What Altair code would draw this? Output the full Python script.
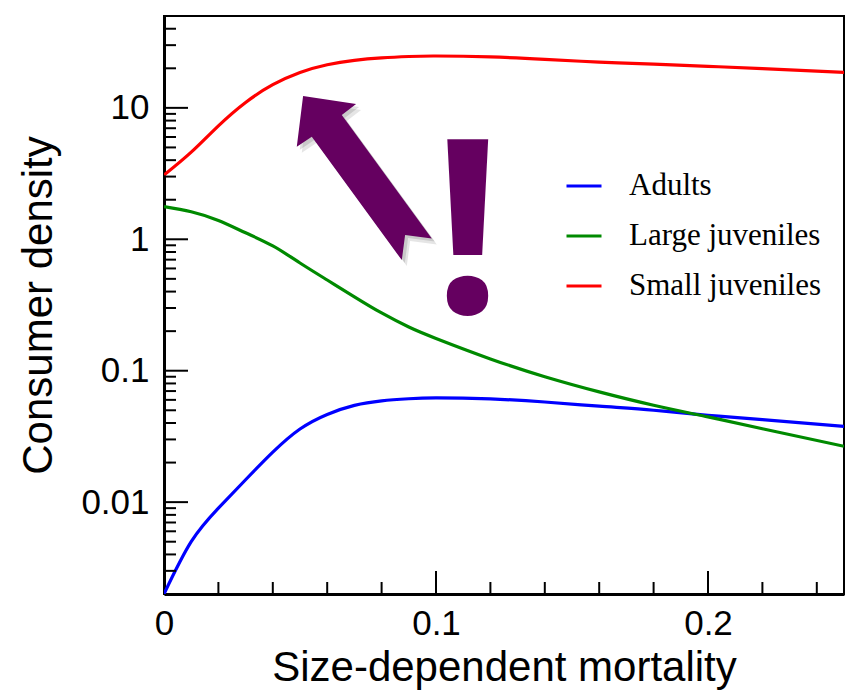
import altair as alt
import pandas as pd

# ---- data ----
mortality = [0, 0.01, 0.02, 0.03, 0.04, 0.05, 0.06, 0.07, 0.08, 0.09, 0.10,
             0.12, 0.14, 0.16, 0.18, 0.20, 0.22, 0.25]
adults = [0.002, 0.0050, 0.0090, 0.0148, 0.024, 0.036, 0.0465, 0.0545, 0.059,
          0.0612, 0.0621, 0.061, 0.0578, 0.0537, 0.050, 0.0458, 0.0425, 0.0377]
large_juveniles = [1.77, 1.62, 1.39, 1.12, 0.89, 0.66, 0.49, 0.365, 0.275,
                   0.215, 0.176, 0.123, 0.090, 0.069, 0.0546, 0.0445, 0.0362, 0.0266]
small_juveniles = [3.08, 4.6, 7.3, 11.0, 15.0, 18.6, 21.3, 23.0, 24.0, 24.6,
                   24.8, 24.4, 23.4, 22.3, 21.5, 20.7, 19.9, 18.6]

series_names = ["Adults", "Large juveniles", "Small juveniles"]
series_colors = ["#0000ff", "#008a00", "#ff0000"]

x_domain = [0, 0.25]
y_domain = [0.002, 50]
x_label_values = [0, 0.1, 0.2]
y_label_values = [0.01, 0.1, 1, 10]
x_major_ticks = [0.1, 0.2]
x_minor_ticks = [0.02, 0.04, 0.06, 0.08, 0.12, 0.14, 0.16, 0.18, 0.22, 0.24]
y_major_ticks = [0.01, 0.1, 1, 10]
y_minor_ticks = [0.003, 0.004, 0.005, 0.006, 0.007, 0.008, 0.009,
                 0.02, 0.03, 0.04, 0.05, 0.06, 0.07, 0.08, 0.09,
                 0.2, 0.3, 0.4, 0.5, 0.6, 0.7, 0.8, 0.9,
                 2, 3, 4, 5, 6, 7, 8, 9, 20, 30, 40]

# annotation anchors (data units)
arrow_anchor = {"x": 0.0743, "y": 2.92}
bang_anchor = {"x": 0.1116, "y": 0.277}
bang_text = "!"
purple = "#650060"

# ---- tables ----
rows = []
for name, vals in zip(series_names, [adults, large_juveniles, small_juveniles]):
    for xv, yv in zip(mortality, vals):
        rows.append({"mortality": xv, "density": yv, "series": name})
df = pd.DataFrame(rows)

xs = alt.Scale(domain=x_domain, nice=False, zero=False)
ys = alt.Scale(type="log", domain=y_domain, nice=False)

W, H = 680, 578
label_font = "Liberation Sans"

x_axis = alt.Axis(values=x_label_values, format="~g", ticks=False, tickSize=0,
                  grid=False, domainColor="black", domainWidth=3,
                  labelFont=label_font, labelFontSize=35, labelColor="black",
                  labelPadding=12, labelFlush=False,
                  title="Size-dependent mortality", titleFont=label_font,
                  titleFontSize=42, titleFontWeight="normal", titleColor="black",
                  titlePadding=6)
y_axis = alt.Axis(values=y_label_values, format="~g", ticks=False, tickSize=0,
                  grid=False, domainColor="black", domainWidth=3,
                  labelFont=label_font, labelFontSize=35, labelColor="black",
                  labelPadding=15, labelFlush=False,
                  title="Consumer density", titleFont=label_font,
                  titleFontSize=42, titleFontWeight="normal", titleColor="black",
                  titlePadding=20)


def X(field):
    return alt.X(field, scale=xs, axis=x_axis)


def Y(field):
    return alt.Y(field, scale=ys, axis=y_axis)


lines = alt.Chart(df).mark_line(strokeWidth=3.2, clip=True, interpolate="natural").encode(
    x=X("mortality:Q"),
    y=Y("density:Q"),
    color=alt.Color("series:N",
                    scale=alt.Scale(domain=series_names, range=series_colors),
                    legend=alt.Legend(orient="none", legendX=401, legendY=151, title=None,
                                      padding=0, symbolType="stroke", symbolSize=1225,
                                      symbolStrokeWidth=3, labelFont="Liberation Serif",
                                      labelFontSize=31, labelColor="black", labelOffset=26,
                                      rowPadding=16, labelLimit=400)),
)

ymaj = alt.Chart(pd.DataFrame({"v": y_major_ticks})).mark_rule(strokeWidth=2, color="black").encode(
    y=Y("v:Q"), x=alt.value(0), x2=alt.value(24))
ymin = alt.Chart(pd.DataFrame({"v": y_minor_ticks})).mark_rule(strokeWidth=2, color="black").encode(
    y=Y("v:Q"), x=alt.value(0), x2=alt.value(12))
xmaj = alt.Chart(pd.DataFrame({"v": x_major_ticks})).mark_rule(strokeWidth=2, color="black").encode(
    x=X("v:Q"), y=alt.value(H), y2=alt.value(H - 23))
xmin = alt.Chart(pd.DataFrame({"v": x_minor_ticks})).mark_rule(strokeWidth=2, color="black").encode(
    x=X("v:Q"), y=alt.value(H), y2=alt.value(H - 12))

arrow_path = ("M -0.63 -0.82 L -0.10 -0.74 L -0.243 -0.63 L 0.657 0.603 L 0.39 0.57 "
              "L 0.357 0.82 L -0.543 -0.413 L -0.693 -0.313 Z")
arrow_df = pd.DataFrame([arrow_anchor])
shadow1 = alt.Chart(arrow_df).mark_point(shape=arrow_path, size=40000, filled=True,
                                          color="#000000", opacity=0.10, strokeWidth=0,
                                          xOffset=5, yOffset=6).encode(
    x=X("x:Q"), y=Y("y:Q"))
shadow2 = alt.Chart(arrow_df).mark_point(shape=arrow_path, size=40000, filled=True,
                                          color="#000000", opacity=0.12, strokeWidth=0,
                                          xOffset=3, yOffset=3).encode(
    x=X("x:Q"), y=Y("y:Q"))
arrow = alt.Chart(arrow_df).mark_point(shape=arrow_path, size=40000, filled=True,
                                        color=purple, opacity=1, strokeWidth=0).encode(
    x=X("x:Q"), y=Y("y:Q"))

bang = alt.Chart(pd.DataFrame([{**bang_anchor, "t": bang_text}])).mark_text(
    font="Open Sans", fontWeight="bold", fontSize=242, color=purple,
    align="center", baseline="alphabetic").encode(
    x=X("x:Q"), y=Y("y:Q"), text="t:N")

chart = alt.layer(lines, ymaj, ymin, xmaj, xmin, shadow1, shadow2, arrow, bang).properties(
    width=W, height=H,
    autosize=alt.AutoSizeParams(type="none"),
    padding={"left": 164, "top": 16, "right": 1, "bottom": 99},
    background="white",
).configure_view(stroke="black", strokeWidth=2)

chart.save("out.html", embed_options={"renderer": "svg", "actions": False})
